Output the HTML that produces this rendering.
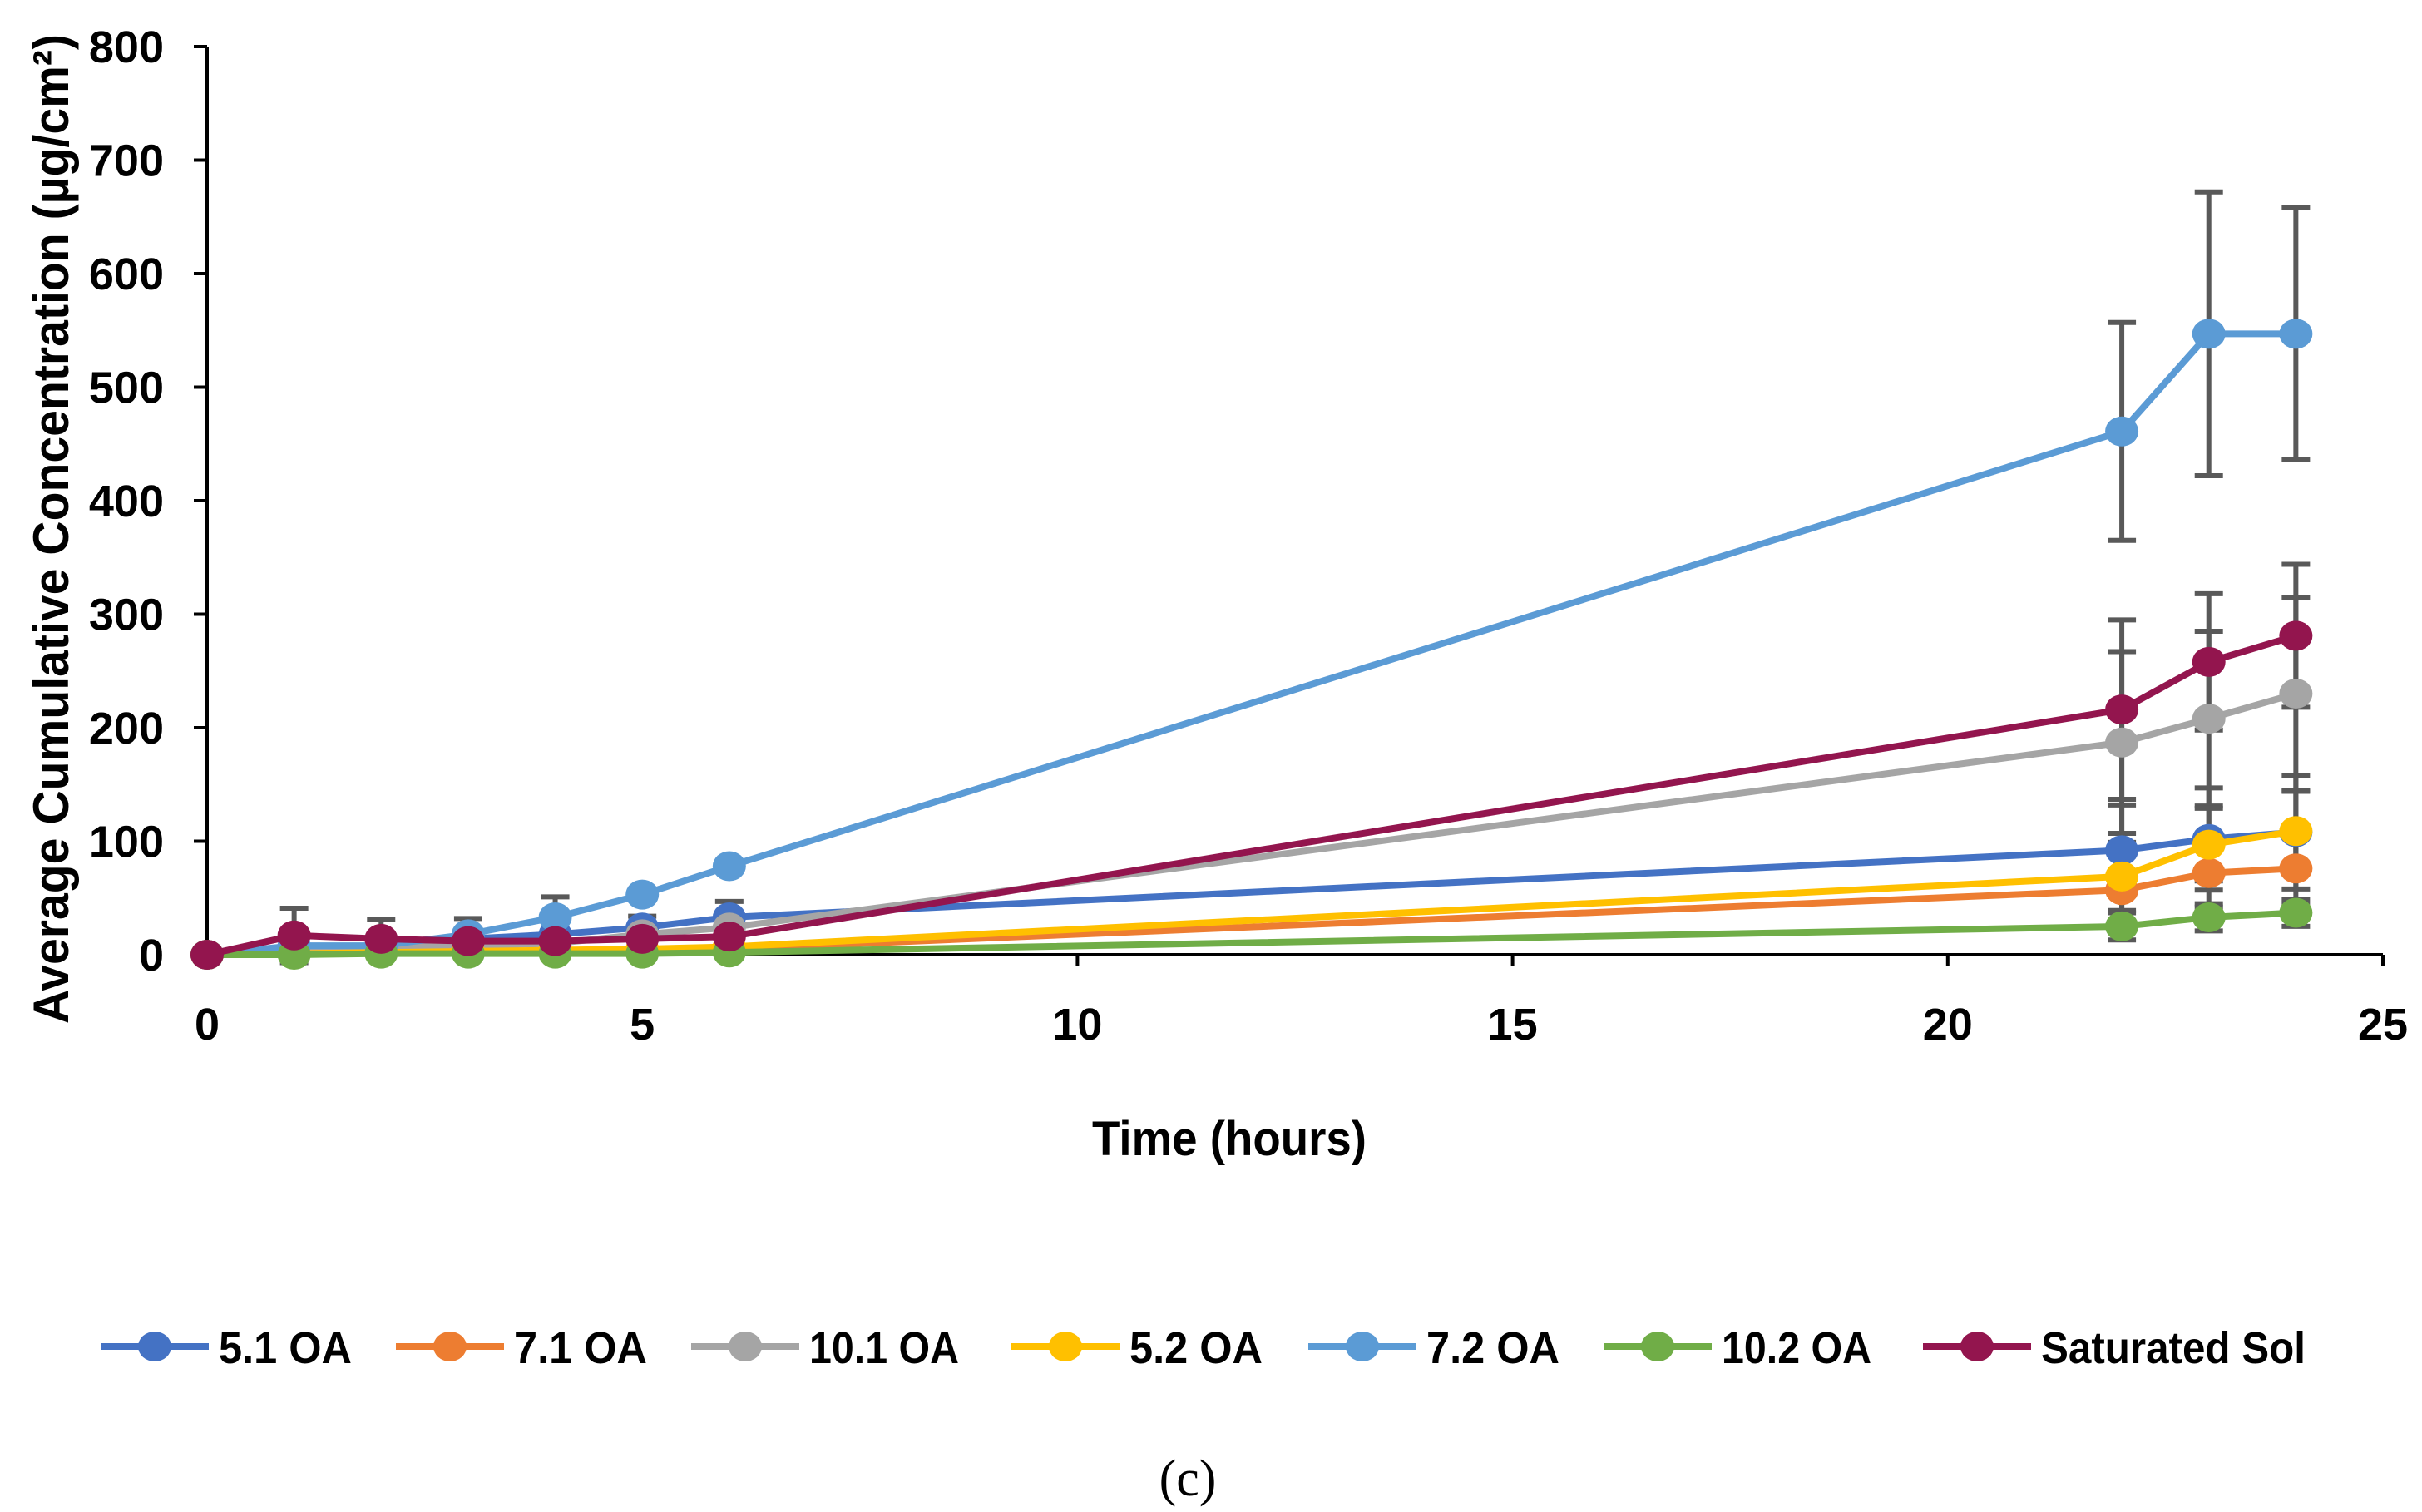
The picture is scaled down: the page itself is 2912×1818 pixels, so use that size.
<!DOCTYPE html>
<html><head><meta charset="utf-8"><style>
html,body{margin:0;padding:0;background:#fff;}
svg{display:block;font-family:"Liberation Sans",Arial,sans-serif;}
</style></head><body>
<svg id="chart" width="2912" height="1818" viewBox="0 0 2912 1818" xmlns="http://www.w3.org/2000/svg">
<g id="axes"></g>
<g id="errs"></g>
<g id="series"></g>
<g id="legend"></g>
<text x="1478" y="1389" text-anchor="middle" font-size="58" font-weight="bold" textLength="330" lengthAdjust="spacingAndGlyphs">Time (hours)</text>
<text transform="translate(82,636) rotate(-90)" text-anchor="middle" font-size="60" font-weight="bold" textLength="1190" lengthAdjust="spacingAndGlyphs">Average Cumulative Concentration (µg/cm²)</text>
<text x="1428" y="1798" text-anchor="middle" font-size="62" font-family="'Liberation Serif',serif">(c)</text>
</svg>
<script>
const times = [0,1,2,3,4,5,6,22,23,24];
const seriesNames = ["5.1 OA","7.1 OA","10.1 OA","5.2 OA","7.2 OA","10.2 OA","Saturated Sol"];
const colors = ["#4472C4","#ED7D31","#A5A5A5","#FFC000","#5B9BD5","#70AD47","#93154E"];
const s51 = [0,5,8,14,18,24,33,92,102,108];
const s71 = [0,1,2,3,3,4,5,57,72,76];
const s101 = [0,5,6,8,10,18,24,187,208,230];
const s52 = [0,1,2,3,4,5,7,69,97,109];
const s72 = [0,8,8,18,33,53,78,461,547,547];
const s102 = [0,0,1,1,1,1,2,25,33,37];
const sSat = [0,17,14,12,12,14,16,216,258,281];
const e51 = [0,0,0,0,0,10,14,40,45,50];
const e71 = [0,0,0,0,0,0,0,30,30,32];
const e101 = [0,0,0,0,0,8,10,80,77,85];
const e52 = [0,0,0,0,0,0,0,30,32,35];
const e72 = [0,0,0,14,18,0,0,96,125,111];
const e102 = [0,0,0,0,0,0,0,12,12,12];
const eSat = [0,24,17,0,0,0,0,79,60,63];
const yTicks = [0,100,200,300,400,500,600,700,800];
const xTicks = [0,5,10,15,20,25];
const values = [s51,s71,s101,s52,s72,s102,sSat];
const errors = [e51,e71,e101,e52,e72,e102,eSat];

const NS="http://www.w3.org/2000/svg";
const X0=249,X1=2865,Y0=1148,Y1=56;
function xs(v){return X0+(v-0)/25*(X1-X0);}
function ys(v){return Y0-(v/800)*(Y0-Y1);}
function mk(tag,attrs,parent){const e=document.createElementNS(NS,tag);for(const k in attrs)e.setAttribute(k,attrs[k]);parent.appendChild(e);return e;}

const axes=document.getElementById('axes');
let yl=mk('line',{x1:X0,y1:Y1,x2:X0,y2:Y0,stroke:'#000','stroke-width':4},axes);


let xl=mk('line',{x1:X0,y1:Y0,x2:X1,y2:Y0,stroke:'#000','stroke-width':4},axes);


yTicks.forEach(t=>{
  const tk=mk('line',{x1:X0-16,y1:ys(t),x2:X0,y2:ys(t),stroke:'#000','stroke-width':4},axes);
  
  
  const tx=mk('text',{x:197,y:ys(t)+19,'text-anchor':'end','font-size':54,'font-weight':'bold'},axes);
  tx.textContent=t;
  
  
});
xTicks.forEach(t=>{
  const tk=mk('line',{x1:xs(t),y1:Y0,x2:xs(t),y2:Y0+14,stroke:'#000','stroke-width':4},axes);
  
  
  const tx=mk('text',{x:xs(t),y:1250,'text-anchor':'middle','font-size':54,'font-weight':'bold'},axes);
  tx.textContent=t;
  
  
});

const eg=document.getElementById('errs');
const sg=document.getElementById('series');
values.forEach((vals,si)=>{
  vals.forEach((v,i)=>{
    const e=errors[si][i]; if(!e) return;
    const x=xs(times[i]);
    const g=mk('g',{stroke:'#595959','stroke-width':6},eg);
    
    
    mk('line',{x1:x,y1:ys(v-e),x2:x,y2:ys(v+e)},g);
    mk('line',{x1:x-17,y1:ys(v+e),x2:x+17,y2:ys(v+e)},g);
    mk('line',{x1:x-17,y1:ys(v-e),x2:x+17,y2:ys(v-e)},g);
  });
});
values.forEach((vals,si)=>{
  const g=mk('g',{},sg);
  
  
  const pts=vals.map((v,i)=>xs(times[i])+','+ys(v)).join(' ');
  const pl=mk('polyline',{points:pts,fill:'none',stroke:colors[si],'stroke-width':8,'stroke-linejoin':'round'},g);
  
  
  vals.forEach((v,i)=>{
    const c=mk('ellipse',{cx:xs(times[i]),cy:ys(v),rx:20,ry:18,fill:colors[si]},g);
    
    
  });
});

const lg=document.getElementById('legend');
const legX=[121,476,831,1216,1573,1928,2312];
const legW=[160,160,180,160,160,180,318];
seriesNames.forEach((n,i)=>{
  const g=mk('g',{},lg);
  
  
  const x=legX[i], y=1619;
  mk('line',{x1:x,y1:y,x2:x+130,y2:y,stroke:colors[i],'stroke-width':8},g);
  mk('ellipse',{cx:x+65,cy:y,rx:20,ry:18,fill:colors[i]},g);
  const t=mk('text',{x:x+142,y:y+20,'font-size':54,'font-weight':'bold',textLength:legW[i],lengthAdjust:'spacingAndGlyphs'},g);
  t.textContent=n;
});
</script>
</body></html>
